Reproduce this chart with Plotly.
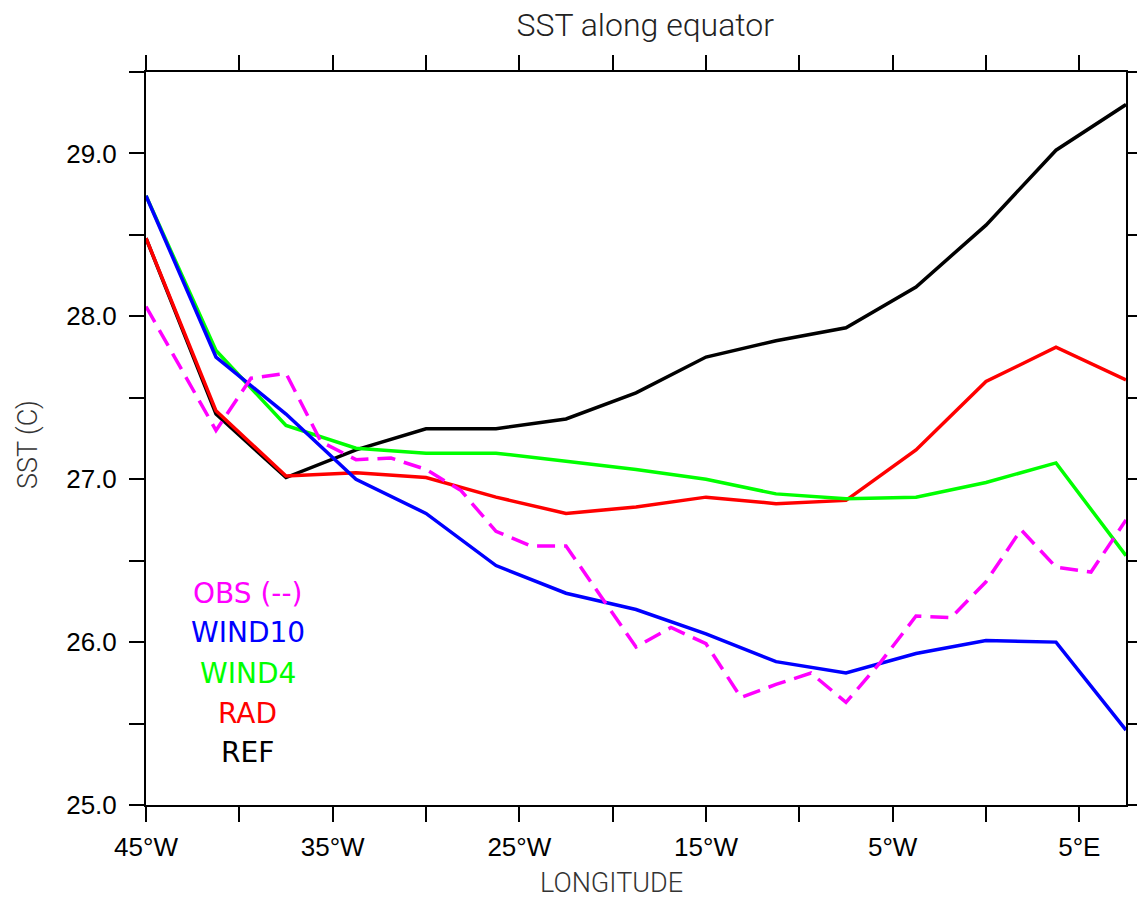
import plotly.graph_objects as go

# Longitude of model grid points (degrees east; negative = west)
lon_model = [-45.0, -41.25, -37.5, -33.75, -30.0, -26.25, -22.5, -18.75,
             -15.0, -11.25, -7.5, -3.75, 0.0, 3.75, 7.5]

# Observation grid (1.875 degree spacing)
lon_obs = [-45.0 + 1.875 * k for k in range(29)]

sst_ref = [28.48, 27.40, 27.01, 27.18, 27.31, 27.31, 27.37, 27.53,
           27.75, 27.85, 27.93, 28.18, 28.56, 29.02, 29.30]
sst_rad = [28.48, 27.42, 27.02, 27.04, 27.01, 26.89, 26.79, 26.83,
           26.89, 26.85, 26.87, 27.18, 27.60, 27.81, 27.61]
sst_wind4 = [28.74, 27.79, 27.33, 27.19, 27.16, 27.16, 27.11, 27.06,
             27.00, 26.91, 26.88, 26.89, 26.98, 27.10, 26.53]
sst_wind10 = [28.74, 27.75, 27.40, 27.00, 26.79, 26.47, 26.30, 26.20,
              26.05, 25.88, 25.81, 25.93, 26.01, 26.00, 25.46]
sst_obs = [28.06, 27.68, 27.30, 27.62, 27.65, 27.23, 27.12, 27.13,
           27.06, 26.93, 26.68, 26.59, 26.59, 26.28, 25.97, 26.09,
           25.99, 25.66, 25.74, 25.81, 25.63, 25.88, 26.16, 26.15,
           26.37, 26.69, 26.46, 26.43, 26.75]

x_tickvals = [-45, -40, -35, -30, -25, -20, -15, -10, -5, 0, 5]
x_ticktext = ["45°W", "", "35°W", "", "25°W", "", "15°W", "", "5°W", "", "5°E"]
y_tickvals = [25.0, 25.5, 26.0, 26.5, 27.0, 27.5, 28.0, 28.5, 29.0, 29.5]
y_ticktext = ["25.0", "", "26.0", "", "27.0", "", "28.0", "", "29.0", ""]

labels = ["OBS (--)", "WIND10", "WIND4", "RAD", "REF"]
label_colors = ["#ff00ff", "#0000ff", "#00ff00", "#ff0000", "#000000"]

fig = go.Figure()

model_series = [
    (sst_ref, "#000000", "REF"),
    (sst_rad, "#ff0000", "RAD"),
    (sst_wind4, "#00ff00", "WIND4"),
    (sst_wind10, "#0000ff", "WIND10"),
]
for yvals, color, name in model_series:
    fig.add_trace(go.Scatter(x=lon_model, y=yvals, mode="lines", name=name,
                             line=dict(color=color, width=3.5),
                             showlegend=False))

fig.add_trace(go.Scatter(x=lon_obs, y=sst_obs, mode="lines", name="OBS",
                         line=dict(color="#ff00ff", width=3.5, dash="18px,9px"),
                         showlegend=False))

# In-plot key
key_y = [0.289, 0.236, 0.180, 0.1255, 0.0723]
for txt, col, yy in zip(labels, label_colors, key_y):
    fig.add_annotation(text=txt, x=0.104, y=yy, xref="paper", yref="paper",
                       xanchor="center", yanchor="middle", showarrow=False,
                       font=dict(family="DejaVu Sans", size=28, color=col))

# Axis titles
title_font = dict(family="Roboto", size=27, color="#333333", weight=300)
fig.add_annotation(text="LONGITUDE", x=0.4755, y=-0.107, xref="paper",
                   yref="paper", xanchor="center", yanchor="middle",
                   showarrow=False, font=title_font)
fig.add_annotation(text="SST (C)", x=-0.1204, y=0.491, xref="paper",
                   yref="paper", xanchor="center", yanchor="middle",
                   showarrow=False, textangle=-90, font=title_font)

tick_font = dict(family="Liberation Sans", size=26, color="#000000")
axis_common = dict(showgrid=False, zeroline=False, showline=True,
                   linecolor="#000000", linewidth=2, ticks="outside",
                   ticklen=15, tickwidth=2, tickcolor="#000000",
                   mirror="allticks", tickfont=tick_font, automargin=False)

fig.update_xaxes(range=[-45, 7.5], tickmode="array", tickvals=x_tickvals,
                 ticktext=x_ticktext, ticklabelstandoff=3, **axis_common)
fig.update_yaxes(range=[25, 29.5], tickmode="array", tickvals=y_tickvals,
                 ticktext=y_ticktext, ticklabelstandoff=7, **axis_common)

fig.update_layout(
    width=1137, height=902,
    margin=dict(l=146, r=11, t=72, b=97, pad=0, autoexpand=False),
    plot_bgcolor="#ffffff", paper_bgcolor="#ffffff",
    title=dict(text="SST along equator", x=0.5675, xanchor="center",
               y=0.972, yanchor="middle",
               font=dict(family="Roboto", size=32, color="#222222", weight=300)),
)

fig.write_html("out.html")
